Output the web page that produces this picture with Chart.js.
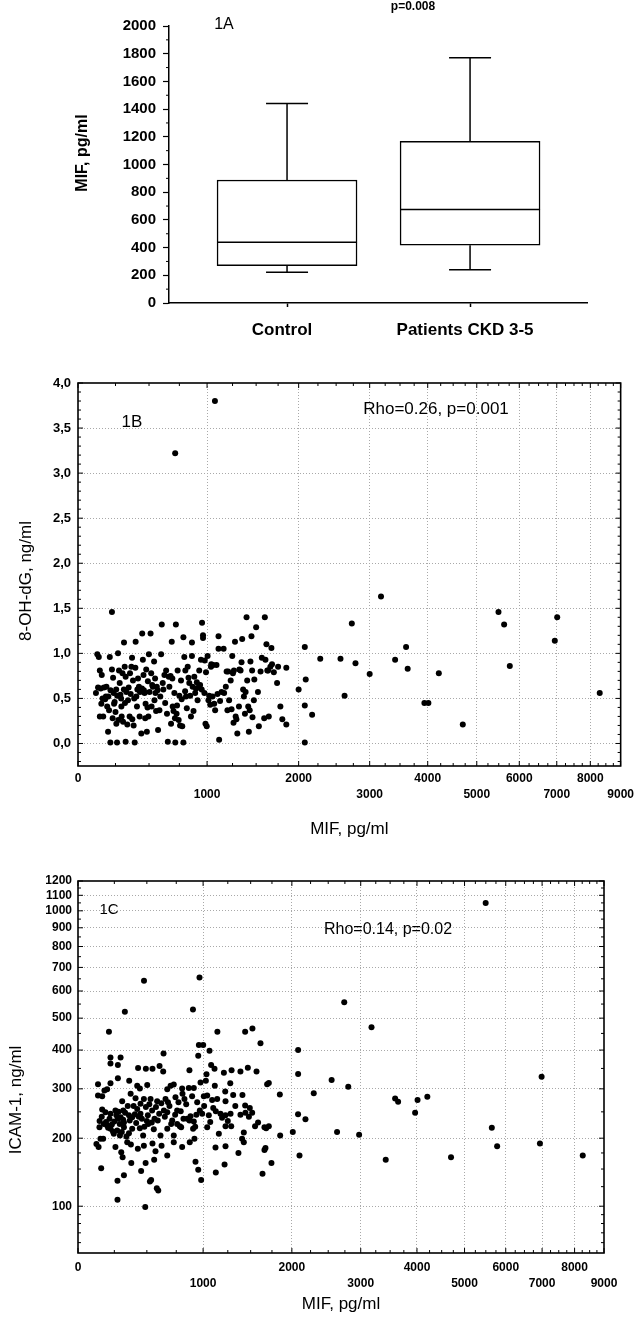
<!DOCTYPE html>
<html>
<head>
<meta charset="utf-8">
<title>MIF, 8-OH-dG and ICAM-1</title>
<script src="https://cdn.jsdelivr.net/npm/chart.js@4.4.1/dist/chart.umd.min.js"></script>
<style>
  html, body { margin: 0; padding: 0; background: #fff; }
  #page { position: relative; width: 639px; height: 1322px; }
  canvas { position: absolute; left: 0; }
</style>
</head>
<body>
<div id="page">
  <canvas id="chartA" width="639" height="340" style="top:0"></canvas>
  <canvas id="chartB" width="639" height="500" style="top:340px"></canvas>
  <canvas id="chartC" width="639" height="482" style="top:840px"></canvas>
</div>
<script>
const FONT = 'Arial, "Liberation Sans", sans-serif';

// 1A - box plot
const groups = ['Control', 'Patients CKD 3-5'];
const groupPos = [1, 2];
const boxMin = [222, 240];
const boxQ1 = [270, 417];
const boxMedian = [438, 675];
const boxQ3 = [888, 1168];
const boxMax = [1440, 1770];
const mifTicksA = [0, 200, 400, 600, 800, 1000, 1200, 1400, 1600, 1800, 2000];

// 1B / 1C axes
const mifTicks = [0, 1000, 2000, 3000, 4000, 5000, 6000, 7000, 8000, 9000];
const ohdgTicks = [0, 0.5, 1, 1.5, 2, 2.5, 3, 3.5, 4];
const icamTicks = [100, 200, 300, 400, 500, 600, 700, 800, 900, 1000, 1100, 1200];

// 1B - MIF (pg/ml) vs 8-OH-dG (ng/ml)
const pointsB = [
  [116,0.56],[125,0.99],[135,0.96],[142,0.81],[155,0.76],[148,0.61],[160,0.50],[152,0.44],[165,0.30],[142,0.30],
  [187,0.63],[183,0.52],[192,0.41],[198,0.13],[210,0.96],[214,0.01],[225,1.46],[225,0.82],[233,0.73],[237,0.56],
  [244,0.46],[250,0.35],[256,0.22],[261,0.01],[268,1.00],[275,0.81],[280,0.67],[285,0.54],[292,0.41],[294,0.30],
  [304,0.24],[311,1.12],[316,0.85],[323,0.74],[323,0.02],[328,0.57],[340,0.48],[352,0.30],[365,0.85],[370,0.95],
  [377,0.70],[382,0.20],[390,0.01],[397,1.13],[402,0.52],[407,0.41],[422,0.63],[427,0.30],[440,0.11],[447,1.22],
  [452,0.93],[457,0.76],[465,0.56],[473,0.44],[483,0.13],[491,0.69],[499,0.99],[504,0.57],[512,1.22],[517,0.78],
  [530,0.63],[543,0.48],[551,0.56],[562,0.63],[572,0.15],[583,0.37],[597,0.99],[602,1.32],[610,0.67],[624,0.76],
  [638,0.81],[652,0.02],[665,0.63],[679,0.22],[685,1.13],[693,0.41],[707,0.56],[715,0.01],[720,1.32],[726,0.33],
  [735,0.81],[744,0.26],[756,0.20],[764,0.70],[785,1.18],[785,0.01],[793,0.96],[802,0.81],[808,0.52],[823,0.85],
  [837,0.67],[852,0.30],[861,1.12],[861,0.97],[867,0.63],[882,0.74],[897,0.61],[912,0.48],[927,0.81],[943,0.93],
  [953,1.34],[962,1.20],[962,1.17],[975,0.56],[978,0.92],[985,0.22],[997,0.19],[1005,0.97],[1013,0.48],[1037,0.85],
  [1040,0.88],[1052,0.52],[1058,0.87],[1068,0.44],[1077,0.37],[1110,1.19],[1116,0.04],[1110,1.05],[1160,1.05],
  [1165,0.56],[1182,0.63],[1198,0.37],[1215,0.48],[1231,0.70],[1247,0.97],[1254,0.78],[1264,0.81],[1275,1.13],
  [1282,0.30],[1299,0.11],[1316,0.41],[1333,0.81],[1343,0.90],[1350,1.16],[1368,0.52],[1379,0.33],[1386,0.57],
  [1396,1.40],[1403,0.70],[1414,0.41],[1421,0.13],[1438,0.91],[1449,1.19],[1456,0.81],[1475,0.48],[1500,1.29],
  [1530,0.19],[1549,0.80],[1563,0.95],[1597,1.40],[1604,0.93],[1615,1.10],[1634,0.81],[1642,0.30],[1660,0.85],
  [1672,1.06],[1679,0.88],[1738,0.67],[1777,0.41],[1848,0.84],[1848,0.21],
  [130,0.62],[170,0.62],[178,0.49],[200,0.52],[205,0.37],[215,0.59],[230,0.28],[240,0.44],[255,0.60],[262,0.53],
  [270,0.26],[290,0.50],[300,0.78],[310,0.60],[318,0.45],[335,0.21],[345,0.62],[355,0.78],[360,0.55],[372,0.27],
  [386,0.50],[395,0.84],[410,0.60],[415,0.72],[430,0.57],[445,0.61],[460,0.59],[470,0.28],[478,0.82],[488,0.40],
  [495,0.30],[520,0.41],[525,0.65],[540,0.91],[548,0.72],[556,0.36],[568,0.59],[590,0.52],[615,0.60],[630,0.45],
  [645,0.33],[660,0.74],[675,0.75],[690,0.72],[700,0.36],[712,0.28],[730,0.42],[750,0.53],[770,0.49],[775,0.19],
  [800,0.58],[815,0.39],[830,0.73],[845,0.53],[875,0.36],[890,0.56],[905,0.68],[920,0.62],[935,0.65],[950,0.60],
  [990,0.79],[1020,0.53],[1030,0.43],[1090,0.87],[1100,0.55],[1125,0.47],[1140,0.57],[1190,0.80],[1205,0.80],
  [1240,0.38],[1260,0.23],[1290,0.27],[1320,0.82],[1360,0.60],[1430,0.37],[1460,0.29],[1480,0.71],[1520,0.57],
  [1590,0.28],[1625,0.81],[1700,0.79],[1750,0.85],[1800,0.27],
  [714,3.22],[1075,3.80],
  [2000,0.60],[2078,0.01],[2078,1.07],[2090,0.71],[2078,0.42],[2173,0.32],[2281,0.94],[2562,0.94],[2621,0.53],
  [2727,1.33],[2782,0.89],[3000,0.77],[3181,1.63],[3416,0.93],[3606,1.07],[3634,0.83],[3938,0.45],[4013,0.45],
  [4213,0.78],[4699,0.21],[5494,1.46],[5628,1.32],[5765,0.86],[6944,1.14],[7012,1.40],[8300,0.56]
];

// 1C - MIF (pg/ml) vs ICAM-1 (ng/ml)
const pointsC = [
  [959,415],[1001,415],[1063,398],[1438,455],[1520,466],[1613,420],[2082,400],[222,379],[296,379],[222,363],
  [276,359],[639,390],[953,384],[477,642],[965,656],[903,530],[328,522],[211,455],[1142,455],[487,99],
  [430,351],[492,349],[546,349],[605,356],[636,342],[870,345],[1033,335],[1079,359],[1113,349],[1209,339],
  [1290,345],[1386,342],[1468,352],[1567,342],
  [134,311],[222,313],[276,325],[361,319],[423,307],[503,309],[444,301],[671,299],[700,307],[728,310],
  [803,301],[864,302],[911,302],[975,315],[1027,319],[1116,307],[1223,294],[1276,313],[1692,311],[1712,314],
  [1847,287],[2082,336],[2294,290],
  [134,285],[163,283],[179,296],[198,299],[308,272],[372,289],[410,279],[449,267],[476,277],[530,277],
  [585,272],[656,277],[677,270],[743,281],[806,289],[824,277],[895,283],[943,270],[1007,283],[1040,285],
  [1089,275],[1140,277],[1226,272],[1307,286],[1408,286],[1438,263],[1490,258],
  [163,255],[186,249],[222,246],[258,253],[276,236],[296,239],[316,253],[321,229],[359,243],[384,239],
  [423,256],[449,246],[492,260],[508,243],[543,253],[563,236],[602,246],[642,253],[671,249],[714,233],
  [758,253],[782,222],[849,236],[870,233],[911,231],[968,253],[991,246],[1056,243],[1126,251],[1174,246],
  [1226,243],[1279,246],[1386,244],[1441,248],[1517,248],[1585,229],[1660,220],[1712,222],[2180,235],[2081,245],
  [144,220],[198,223],[222,217],[246,208],[271,214],[291,205],[321,220],[359,209],[384,217],[444,218],
  [470,205],[511,226],[557,216],[613,205],[671,217],[728,205],[758,226],[794,220],[904,217],[924,221],
  [1040,220],[1157,208],[1226,222],[1286,222],[1423,210],[1680,218],[1851,205],[2012,211],[2631,211],[2974,206],
  [123,190],[138,185],[151,199],[170,199],[258,185],[301,176],[311,168],[346,193],[374,189],[428,182],
  [476,187],[546,191],[571,178],[622,187],[671,171],[728,193],[803,185],[873,193],[917,199],[1123,184],
  [1226,186],[1364,175],[1404,199],[1423,193],[1660,180],[1672,183],[2100,171],
  [156,151],[377,159],[454,147],[490,159],[560,164],[927,161],[953,149],[1216,157],[1126,145],[1637,143],
  [1744,159],[273,133],[321,141],[525,132],[535,134],[582,123],[594,120],[981,134],[273,108],
  [145,232],[160,240],[175,226],[190,230],[205,219],[215,236],[232,225],[240,212],[250,231],[265,243],
  [280,250],[290,226],[305,211],[315,234],[330,248],[340,203],[350,262],[365,233],[395,262],[405,245],
  [415,228],[435,240],[460,236],[480,221],[500,232],[520,266],[540,229],[575,260],[590,233],[620,268],
  [650,240],[690,262],[705,226],[740,244],[770,270],[790,251],[815,236],[840,266],[880,241],[935,244],
  [1010,262],[1070,230],[1100,258],[1190,238],[1250,232],[1330,262],[1480,240],[1550,222],
  [5496,1050],[2740,557],[3178,470],[2550,321],[2802,305],[3422,164],[3590,278],[3644,271],[3964,248],
  [4011,275],[4205,282],[4700,168],[5647,219],[5780,186],[6937,191],[6986,329],[8268,171]
];

Chart.defaults.font.family = FONT;
Chart.defaults.color = '#000';

// log(value + shift) axis, like the Statistica scale in the figure
class ShiftLogScale extends Chart.Scale {
  static id = 'shiftlog';
  static defaults = {};
  determineDataLimits() {
    this.min = this.options.min;
    this.max = this.options.max;
  }
  buildTicks() {
    return [];
  }
  getLabelForValue(value) {
    return String(value);
  }
  configure() {
    super.configure();
    const s = this.options.shift;
    this._logStart = Math.log10(this.min + s);
    this._logSpan = Math.log10(this.max + s) - this._logStart;
  }
  getPixelForValue(value) {
    if (value === undefined || value === null || isNaN(value)) value = this.min;
    const d = (Math.log10(value + this.options.shift) - this._logStart) / this._logSpan;
    return this.getPixelForDecimal(d);
  }
  getValueForPixel(pixel) {
    const d = this.getDecimalForPixel(pixel);
    return Math.pow(10, this._logStart + d * this._logSpan) - this.options.shift;
  }
}
Chart.register(ShiftLogScale);

function steps(from, to, step) {
  const out = [];
  for (let v = from; v <= to + 1e-9; v += step) out.push(+v.toFixed(3));
  return out;
}

const gridGray = '#a9a9a9';
const mifMinor = steps(250, 8750, 250).filter(v => v % 1000 !== 0);
const ohdgMinor = steps(-0.2, 3.9, 0.1).filter(v => Math.abs(v * 2 - Math.round(v * 2)) > 1e-6);
const icamMinor = [60, 70, 80, 90, 125, 150, 175, 250, 350, 450, 550, 650, 750, 850, 950, 1050, 1150];

function notesPlugin(items) {
  return {
    id: 'notes',
    afterDraw(chart) {
      const ctx = chart.ctx;
      items.forEach(n => {
        ctx.save();
        ctx.font = n.font + ' ' + FONT;
        ctx.fillStyle = '#000';
        ctx.textAlign = 'center';
        ctx.textBaseline = 'middle';
        ctx.translate(n.x, n.y);
        if (n.rotate) ctx.rotate(-Math.PI / 2);
        ctx.fillText(n.text, 0, 0);
        ctx.restore();
      });
    }
  };
}

// closed frame with inward tick marks on all four sides
function framePlugin(xMajor, xMinor, yMajor, yMinor) {
  return {
    id: 'frame',
    afterDatasetsDraw(chart) {
      const { ctx, chartArea: a, scales: { x, y } } = chart;
      ctx.save();
      ctx.strokeStyle = '#000';
      ctx.lineWidth = 1;
      const seg = (x1, y1, x2, y2) => { ctx.beginPath(); ctx.moveTo(x1, y1); ctx.lineTo(x2, y2); ctx.stroke(); };
      [[xMajor, 5], [xMinor, 3]].forEach(([vals, len]) => vals.forEach(v => {
        const px = x.getPixelForValue(v);
        seg(px, a.bottom, px, a.bottom - len);
        seg(px, a.top, px, a.top + len);
      }));
      [[yMajor, 5], [yMinor, 3]].forEach(([vals, len]) => vals.forEach(v => {
        const py = y.getPixelForValue(v);
        seg(a.left, py, a.left + len, py);
        seg(a.right, py, a.right - len, py);
      }));
      ctx.lineWidth = 1.6;
      ctx.strokeRect(a.left, a.top, a.right - a.left, a.bottom - a.top);
      ctx.restore();
    }
  };
}

const boxWhiskers = {
  id: 'boxWhiskers',
  afterDatasetsDraw(chart) {
    const { ctx, scales: { y } } = chart;
    const meta = chart.getDatasetMeta(0);
    ctx.save();
    ctx.strokeStyle = '#000';
    ctx.lineWidth = 1.5;
    const seg = (x1, y1, x2, y2) => { ctx.beginPath(); ctx.moveTo(x1, y1); ctx.lineTo(x2, y2); ctx.stroke(); };
    meta.data.forEach((bar, i) => {
      const half = bar.width / 2;
      const cap = bar.width * 0.15;
      const yMed = y.getPixelForValue(boxMedian[i]);
      const yMax = y.getPixelForValue(boxMax[i]);
      const yMin = y.getPixelForValue(boxMin[i]);
      seg(bar.x - half, yMed, bar.x + half, yMed);
      seg(bar.x, y.getPixelForValue(boxQ3[i]), bar.x, yMax);
      seg(bar.x - cap, yMax, bar.x + cap, yMax);
      seg(bar.x, y.getPixelForValue(boxQ1[i]), bar.x, yMin);
      seg(bar.x - cap, yMin, bar.x + cap, yMin);
    });
    ctx.restore();
  }
};

const minorTicksA = {
  id: 'minorTicksA',
  afterDraw(chart) {
    const { ctx, chartArea: a, scales: { y } } = chart;
    ctx.save();
    ctx.strokeStyle = '#000';
    ctx.lineWidth = 1;
    steps(100, 1900, 200).forEach(v => {
      const py = y.getPixelForValue(v);
      ctx.beginPath(); ctx.moveTo(a.left, py); ctx.lineTo(a.left - 3, py); ctx.stroke();
    });
    ctx.restore();
  }
};

function mifAxis(height, labelPad, titlePad) {
  return {
    type: 'shiftlog',
    shift: 2000,
    min: 0,
    max: 9000,
    afterBuildTicks: s => { s.ticks = mifTicks.map(v => ({ value: v })); },
    afterFit: s => { s.height = height; },
    grid: {
      color: c => (c.tick && (c.tick.value === 0 || c.tick.value === 9000)) ? 'transparent' : gridGray,
      lineWidth: 1,
      drawTicks: false
    },
    border: { display: false, dash: [1, 2] },
    ticks: {
      autoSkip: false,
      maxRotation: 0,
      padding: labelPad,
      font: { size: 12, weight: 'bold', lineHeight: 16 / 12 },
      callback: v => (Math.round(v / 1000) % 2 === 1) ? ['', String(v)] : String(v)
    },
    title: {
      display: true,
      text: 'MIF, pg/ml',
      font: { size: 17, lineHeight: 1.2 },
      padding: { top: 0, bottom: titlePad }
    }
  };
}

function yGrid(topValue) {
  return {
    color: c => (c.tick && c.tick.value === topValue) ? 'transparent' : gridGray,
    lineWidth: 1,
    drawTicks: false
  };
}

const noLegend = { legend: { display: false }, tooltip: { enabled: false } };

// ---- 1A ----
new Chart(document.getElementById('chartA'), {
  type: 'bar',
  data: {
    datasets: [{
      data: groupPos.map((p, i) => ({ x: p, y: [boxQ1[i], boxQ3[i]] })),
      backgroundColor: '#fff',
      borderColor: '#000',
      borderWidth: 1.5,
      borderSkipped: false,
      barThickness: 140
    }]
  },
  options: {
    responsive: false,
    animation: false,
    layout: { padding: { top: 26, right: 52, left: 0, bottom: 0 } },
    plugins: noLegend,
    scales: {
      x: {
        type: 'linear',
        min: 0.355,
        max: 2.639,
        offset: false,
        afterBuildTicks: s => { s.ticks = groupPos.map(v => ({ value: v })); },
        afterFit: s => { s.height = 37; },
        grid: { offset: false, drawOnChartArea: false, drawTicks: true, tickLength: 4, tickColor: '#000', tickWidth: 1.5 },
        border: { display: true, color: '#000', width: 1.5 },
        ticks: {
          autoSkip: false,
          maxRotation: 0,
          padding: 13,
          labelOffset: c => (c.index === 0 ? -26 : -5),
          font: { size: 17, weight: 'bold' },
          callback: v => groups[groupPos.indexOf(v)] || ''
        }
      },
      y: {
        min: 0,
        max: 2000,
        afterBuildTicks: s => { s.ticks = mifTicksA.map(v => ({ value: v })); },
        afterFit: s => { s.width = 169; },
        grid: { drawOnChartArea: false, drawTicks: true, tickLength: 6, tickColor: '#000', tickWidth: 1.2 },
        border: { display: true, color: '#000', width: 1.5 },
        ticks: { padding: 7, font: { size: 15, weight: 'bold' }, callback: v => String(v) }
      }
    }
  },
  plugins: [boxWhiskers, minorTicksA, notesPlugin([
    { text: 'p=0.008', x: 413, y: 7, font: 'bold 12px' },
    { text: '1A', x: 224, y: 25, font: '16px' },
    { text: 'MIF, pg/ml', x: 83, y: 153, font: 'bold 16px', rotate: true }
  ])]
});

// ---- 1B ----
new Chart(document.getElementById('chartB'), {
  type: 'scatter',
  data: {
    datasets: [{
      data: pointsB.map(([x, y]) => ({ x, y })),
      pointRadius: 3,
      backgroundColor: '#000',
      borderWidth: 0
    }]
  },
  options: {
    responsive: false,
    animation: false,
    layout: { padding: { top: 43, right: 16, left: 0, bottom: 0 } },
    plugins: noLegend,
    scales: {
      x: mifAxis(74, 5, 0),
      y: {
        min: -0.25,
        max: 4,
        afterBuildTicks: s => { s.ticks = ohdgTicks.map(v => ({ value: v })); },
        afterFit: s => { s.width = 78; },
        grid: yGrid(4),
        border: { display: false, dash: [1, 2] },
        ticks: { padding: 7, font: { size: 13, weight: 'bold' }, callback: v => v.toFixed(1).replace('.', ',') }
      }
    }
  },
  plugins: [framePlugin(mifTicks, mifMinor, ohdgTicks, ohdgMinor), notesPlugin([
    { text: '1B', x: 132, y: 82, font: '17px' },
    { text: 'Rho=0.26, p=0.001', x: 436, y: 69, font: '17px' },
    { text: '8-OH-dG, ng/ml', x: 26, y: 241, font: '17px', rotate: true }
  ])]
});

// ---- 1C ----
new Chart(document.getElementById('chartC'), {
  type: 'scatter',
  data: {
    datasets: [{
      data: pointsC.map(([x, y]) => ({ x, y })),
      pointRadius: 3,
      backgroundColor: '#000',
      borderWidth: 0
    }]
  },
  options: {
    responsive: false,
    animation: false,
    layout: { padding: { top: 41, right: 35, left: 0, bottom: 0 } },
    plugins: noLegend,
    scales: {
      x: mifAxis(69, 7, 7),
      y: {
        type: 'shiftlog',
        shift: 120,
        min: 50,
        max: 1200,
        afterBuildTicks: s => { s.ticks = icamTicks.map(v => ({ value: v })); },
        afterFit: s => { s.width = 78; },
        grid: yGrid(1200),
        border: { display: false, dash: [1, 2] },
        ticks: { autoSkip: false, padding: 6, font: { size: 12, weight: 'bold' } }
      }
    }
  },
  plugins: [framePlugin(mifTicks, mifMinor, icamTicks, icamMinor), notesPlugin([
    { text: '1C', x: 109, y: 70, font: '15px' },
    { text: 'Rho=0.14, p=0.02', x: 388, y: 90, font: '16px' },
    { text: 'ICAM-1, ng/ml', x: 16, y: 260, font: '17px', rotate: true }
  ])]
});
</script>
</body>
</html>
